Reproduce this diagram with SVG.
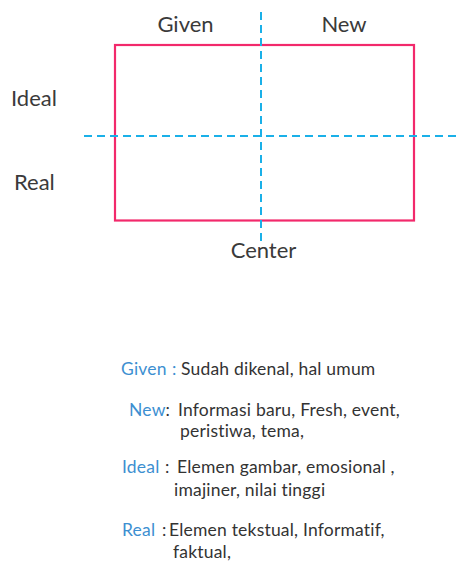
<svg xmlns="http://www.w3.org/2000/svg" width="457" height="563" viewBox="0 0 457 563">
<style>
.lbl{font-family:Lato,"Open Sans",sans-serif;font-size:22px;fill:#3a3a3a}
.txt{font-family:Lato,"Open Sans",sans-serif;font-size:17.5px;fill:#333;letter-spacing:0.2px}
.key{fill:#3d8fd1}
.dash{stroke:#1ab0e8;stroke-width:2;stroke-dasharray:8 5;fill:none}
</style>
<rect width="457" height="563" fill="#fff"/>
<g id="frame"><rect x="115" y="45" width="299" height="175.5" fill="none" stroke="#f2296b" stroke-width="2.2"/></g>
<g id="connectors">
<line class="dash" x1="261" y1="12" x2="261" y2="246"/>
<line class="dash" x1="84" y1="136" x2="457" y2="136"/>
</g>
<g id="given"><text class="lbl" x="185.5" y="32" text-anchor="middle">Given</text></g>
<g id="new"><text class="lbl" x="344" y="32" text-anchor="middle">New</text></g>
<g id="ideal"><text class="lbl" x="11" y="106">Ideal</text></g>
<g id="real"><text class="lbl" x="14" y="190">Real</text></g>
<g id="center"><text class="lbl" x="263.5" y="258" text-anchor="middle">Center</text></g>
<g id="legend">
<text class="txt" x="121" y="375"><tspan class="key">Given</tspan><tspan x="172" class="key">:</tspan><tspan x="181">Sudah dikenal, hal umum</tspan></text>
<text class="txt" x="129" y="416"><tspan class="key">New</tspan>:<tspan x="178">Informasi baru, Fresh, event,</tspan></text>
<text class="txt" x="180" y="437">peristiwa, tema,</text>
<text class="txt" x="122" y="473"><tspan class="key">Ideal</tspan><tspan x="165">:</tspan><tspan x="177">Elemen gambar, emosional ,</tspan></text>
<text class="txt" x="174" y="496">imajiner, nilai tinggi</text>
<text class="txt" x="122" y="536"><tspan class="key">Real</tspan><tspan x="162">:</tspan><tspan x="169">Elemen tekstual, Informatif,</tspan></text>
<text class="txt" x="173" y="558">faktual,</text>
</g>
</svg>
